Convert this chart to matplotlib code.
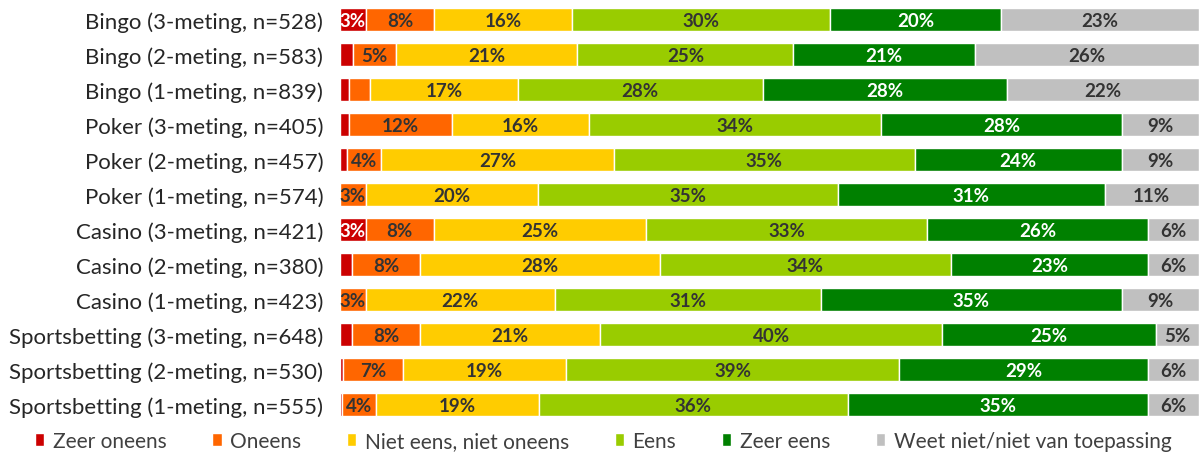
import numpy as np
import matplotlib.pyplot as plt

plt.rcParams['font.family'] = ['Lato', 'DejaVu Sans']

# rijen van boven naar beneden
rijen = ["Bingo (3-meting, n=528)", "Bingo (2-meting, n=583)", "Bingo (1-meting, n=839)",
         "Poker (3-meting, n=405)", "Poker (2-meting, n=457)", "Poker (1-meting, n=574)",
         "Casino (3-meting, n=421)", "Casino (2-meting, n=380)", "Casino (1-meting, n=423)",
         "Sportsbetting (3-meting, n=648)", "Sportsbetting (2-meting, n=530)",
         "Sportsbetting (1-meting, n=555)"]

zeer_oneens = [3, 1.5, 1.0, 1.0, 0.8, 0, 3, 1.4, 0, 1.4, 0.35, 0.2]
oneens = [8, 5, 2.4, 12, 4, 3, 8, 8, 3, 8, 7, 4]
neutraal = [16, 21, 17, 16, 27, 20, 25, 28, 22, 21, 19, 19]
eens = [30, 25, 28, 34, 35, 35, 33, 34, 31, 40, 39, 36]
zeer_eens = [20, 21, 28, 28, 24, 31, 26, 23, 35, 25, 29, 35]
weet_niet = [23, 26, 22, 9, 9, 11, 6, 6, 9, 5, 6, 6]

reeksen = ["Zeer oneens", "Oneens", "Niet eens, niet oneens", "Eens", "Zeer eens",
           "Weet niet/niet van toepassing"]
kleuren = ["#CC0000", "#FF6600", "#FFCC00", "#99CC00", "#008000", "#C0C0C0"]
tekstkleur = ["white", "#333333", "#333333", "#333333", "white", "#333333"]

data = np.array([zeer_oneens, oneens, neutraal, eens, zeer_eens, weet_niet], dtype=float)
aandeel = data / data.sum(axis=0) * 100  # 100% gestapeld

fig = plt.figure(figsize=(11.99, 4.56), dpi=100)
ax = fig.add_axes([340 / 1199, 33 / 456, 859 / 1199, 420 / 456])

y = np.arange(len(rijen))
links = np.zeros(len(rijen))
for i in range(len(reeksen)):
    bars = ax.barh(y, aandeel[i], left=links, height=0.68, color=kleuren[i],
                   edgecolor="white", linewidth=1, label=reeksen[i])
    for j, b in enumerate(bars):
        waarde = round(data[i, j])
        if waarde >= 3:
            ax.text(links[j] + aandeel[i, j] / 2, y[j] + 0.03, f"{waarde}%", ha="center",
                    va="center", fontsize=13.5, fontweight="bold", color=tekstkleur[i])
    links += aandeel[i]

ax.set_xlim(0, 100)
ax.set_ylim(11.5, -0.5)
ax.set_yticks(y)
ax.set_yticklabels(rijen, fontsize=16, color="#262626")
ax.tick_params(axis="y", length=0, pad=12)
ax.set_xticks([])
for s in ax.spines.values():
    s.set_visible(False)

fig.legend(loc="center", bbox_to_anchor=(0.503, 0.031), ncol=6, frameon=False,
           fontsize=15, handlelength=0.45, handleheight=0.6, handletextpad=0.4,
           columnspacing=2.2, labelcolor="#404040")

fig.savefig("out.png", dpi=100)
